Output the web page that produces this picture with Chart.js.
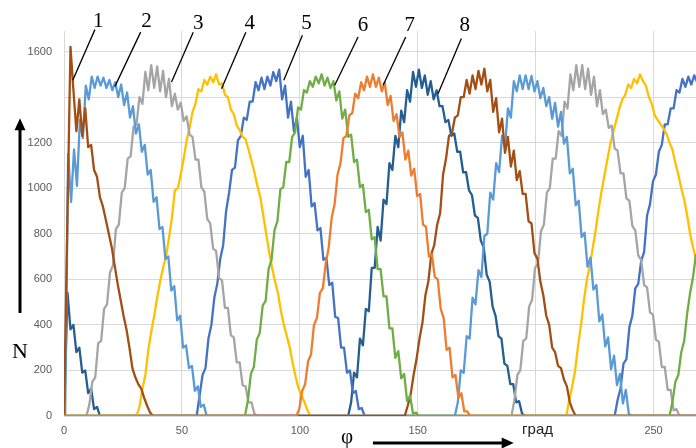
<!DOCTYPE html>
<html>
<head>
<meta charset="utf-8">
<script src="https://cdn.jsdelivr.net/npm/chart.js@4.4.0/dist/chart.umd.min.js"></script>
<style>
  html, body { margin: 0; padding: 0; background: #fff; }
  #wrap { width: 696px; height: 448px; }
</style>
</head>
<body>
<div id="wrap"><canvas id="chart" width="696" height="448"></canvas></div>
<script>
// angle step between read samples (degrees)
const phiStep = 1.25;
const phiMax = 268;

// each curve: list of humps, [start angle, N values read every phiStep]
const curve1 = [
  [0.25, [0, 900, 1620, 1430, 1250, 1390, 1230, 1350, 1180, 1190, 1080, 1050, 960, 920, 860, 800, 740, 660, 580, 510, 440, 380, 300, 210, 170, 140, 120, 80, 45, 15, 0]],
  [144.5, [0, 45, 95, 180, 250, 340, 410, 530, 590, 710, 750, 840, 890, 1060, 1130, 1230, 1240, 1310, 1320, 1400, 1400, 1475, 1415, 1495, 1435, 1515, 1455, 1525, 1425, 1475, 1335, 1395, 1245, 1305, 1155, 1225, 1095, 1165, 1035, 1075, 975, 975, 855, 845, 715, 690, 590, 530, 440, 400, 300, 280, 220, 210, 160, 130, 60, 25, 0]]
];
const curve2 = [
  [0.5, [0, 1150, 940, 1170, 1010, 1300, 1220, 1450, 1390, 1490, 1440, 1490, 1450, 1485, 1440, 1475, 1430, 1465, 1400, 1455, 1365, 1420, 1310, 1360, 1240, 1280, 1160, 1190, 1060, 1080, 940, 960, 820, 830, 690, 700, 550, 570, 420, 440, 300, 310, 210, 220, 110, 130, 40, 50, 0]],
  [165.75, [0, 60, 200, 190, 350, 340, 520, 490, 640, 610, 790, 800, 980, 950, 1110, 1070, 1230, 1180, 1350, 1310, 1470, 1425, 1495, 1435, 1495, 1435, 1493, 1425, 1470, 1395, 1440, 1360, 1400, 1305, 1375, 1270, 1335, 1195, 1225, 1065, 1085, 925, 945, 785, 805, 655, 695, 555, 575, 415, 445, 305, 345, 205, 265, 135, 185, 55, 115, 10, 0]]
];
const curve3 = [
  [9.5, [0, 50, 150, 170, 320, 330, 470, 490, 630, 660, 820, 840, 980, 1000, 1130, 1140, 1270, 1280, 1400, 1370, 1510, 1430, 1540, 1440, 1535, 1425, 1515, 1400, 1480, 1360, 1415, 1345, 1375, 1295, 1315, 1235, 1225, 1125, 1125, 1005, 985, 865, 845, 735, 725, 605, 595, 475, 475, 355, 345, 235, 235, 135, 130, 60, 60, 10, 0]],
  [189.75, [0, 70, 180, 200, 330, 340, 480, 510, 650, 670, 810, 840, 980, 1000, 1130, 1130, 1250, 1230, 1380, 1350, 1500, 1430, 1540, 1445, 1540, 1435, 1525, 1410, 1490, 1360, 1430, 1325, 1345, 1265, 1275, 1175, 1165, 1065, 1065, 955, 945, 835, 815, 705, 685, 575, 565, 455, 445, 335, 325, 215, 215, 115, 115, 25, 30, 0]]
];
const curve4 = [
  [30.75, [0, 40, 120, 180, 290, 370, 440, 520, 590, 650, 700, 780, 870, 990, 1000, 1060, 1130, 1210, 1265, 1335, 1370, 1435, 1425, 1475, 1455, 1490, 1465, 1500, 1455, 1460, 1410, 1400, 1345, 1325, 1275, 1255, 1225, 1215, 1170, 1120, 1070, 1010, 960, 880, 800, 720, 650, 590, 540, 460, 400, 350, 300, 230, 170, 120, 90, 60, 25, 0]],
  [213, [0, 70, 130, 200, 310, 400, 510, 600, 660, 740, 820, 910, 990, 1060, 1130, 1200, 1250, 1300, 1350, 1390, 1410, 1455, 1440, 1480, 1460, 1500, 1470, 1450, 1400, 1370, 1320, 1300, 1280, 1260, 1240, 1200, 1170, 1110, 1060, 1000, 950, 880, 800, 740, 690, 620]]
];
const curve5 = [
  [56.25, [0, 90, 180, 210, 340, 400, 520, 580, 690, 750, 900, 980, 1080, 1090, 1210, 1230, 1310, 1300, 1380, 1380, 1465, 1430, 1485, 1435, 1490, 1450, 1510, 1470, 1520, 1390, 1450, 1310, 1380, 1250, 1310, 1180, 1230, 1050, 1080, 920, 935, 815, 825, 685, 695, 575, 585, 435, 430, 300, 300, 190, 200, 100, 110, 30, 35, 0]],
  [233.5, [0, 70, 120, 230, 250, 390, 440, 560, 580, 680, 720, 880, 930, 1030, 1060, 1160, 1190, 1280, 1280, 1350, 1350, 1430, 1420, 1480, 1445, 1490, 1455, 1495, 1465]]
];
const curve6 = [
  [76.75, [0, 70, 185, 215, 335, 365, 485, 505, 645, 685, 815, 855, 995, 1005, 1115, 1115, 1225, 1245, 1355, 1345, 1430, 1420, 1470, 1445, 1490, 1460, 1500, 1450, 1485, 1440, 1470, 1385, 1425, 1305, 1345, 1225, 1235, 1115, 1125, 1005, 1015, 895, 905, 775, 785, 645, 645, 525, 525, 385, 385, 255, 285, 165, 185, 65, 90, 10, 15, 0]],
  [256.75, [0, 60, 150, 180, 280, 330, 450, 540, 610, 710, 790]]
];
const curve7 = [
  [98.5, [0, 30, 110, 140, 240, 270, 400, 430, 540, 560, 670, 740, 870, 930, 1060, 1110, 1220, 1230, 1320, 1330, 1415, 1395, 1465, 1430, 1490, 1445, 1500, 1445, 1485, 1425, 1465, 1365, 1405, 1295, 1325, 1225, 1245, 1125, 1165, 1055, 1085, 965, 975, 840, 830, 700, 710, 610, 600, 470, 430, 290, 300, 170, 180, 80, 100, 20, 20, 0]]
];
const curve8 = [
  [0.25, [0, 540, 380, 400, 280, 300, 190, 200, 100, 120, 30, 40, 0]],
  [120.5, [0, 60, 190, 170, 340, 310, 470, 460, 650, 650, 830, 770, 950, 930, 1110, 1080, 1230, 1180, 1340, 1290, 1430, 1380, 1510, 1445, 1520, 1440, 1495, 1410, 1470, 1390, 1430, 1360, 1360, 1290, 1300, 1230, 1240, 1160, 1160, 1070, 1070, 990, 970, 880, 870, 770, 740, 620, 590, 480, 440, 350, 340, 230, 220, 140, 140, 60, 65, 10, 0]]
];

const curveNames = ['1', '2', '3', '4', '5', '6', '7', '8'];
const curveColors = ['#A24E14', '#5B9BD5', '#A5A5A5', '#FFC000', '#4472C4', '#70AD47', '#ED7D31', '#255E91'];

// callout labels: number position and leader line ends, in axis units
const labelPhi  = [14.5, 35.0, 56.9, 78.8, 102.8, 126.8, 146.6, 169.9];
const labelN    = [1732, 1732, 1722, 1722, 1722, 1715, 1715, 1715];
const leadFromPhi = [13.1, 32.5, 54.8, 77.1, 101.1, 124.7, 144.9, 168.5];
const leadFromN   = [1696, 1685, 1685, 1685, 1671, 1664, 1664, 1657];
const leadToPhi   = [3.7, 21.6, 45.6, 66.8, 93.2, 114.8, 135.3, 158.6];
const leadToN     = [1474, 1447, 1466, 1437, 1474, 1452, 1452, 1415];

function toPoints(humps) {
  const pts = [];
  if (humps[0][0] > 0) pts.push({ x: 0, y: 0 });
  humps.forEach(([start, vals]) => {
    vals.forEach((v, i) => pts.push({ x: start + i * phiStep, y: v }));
  });
  const last = pts[pts.length - 1];
  if (last.x < phiMax) pts.push({ x: phiMax, y: 0 });
  return pts;
}

const allCurves = [curve1, curve2, curve3, curve4, curve5, curve6, curve7, curve8];
const datasets = allCurves.map((c, i) => ({
  label: curveNames[i],
  data: toPoints(c),
  borderColor: curveColors[i],
  borderWidth: 2.3,
  pointRadius: 0,
  tension: 0,
  fill: false,
  borderJoinStyle: 'round',
  order: i === 6 ? 0 : (i === 5 ? 1 : 2)
}));

const tickFont = { family: 'Liberation Sans, Arial, sans-serif', size: 11 };

function arrowHead(ctx, tx, ty, dx, dy) {
  // filled head pointing along (dx, dy)
  const len = 12, half = 5.5;
  const px = -dy, py = dx;
  ctx.beginPath();
  ctx.moveTo(tx, ty);
  ctx.lineTo(tx - dx * len + px * half, ty - dy * len + py * half);
  ctx.lineTo(tx - dx * len - px * half, ty - dy * len - py * half);
  ctx.closePath();
  ctx.fill();
}

const notes = {
  id: 'notes',
  afterDraw(chart) {
    const { ctx, chartArea } = chart;
    const xs = chart.scales.x, ys = chart.scales.y;
    ctx.save();
    ctx.fillStyle = '#000';
    ctx.strokeStyle = '#000';

    // curve numbers with leader lines
    ctx.lineWidth = 1.3;
    ctx.font = '21px "Liberation Serif", "Times New Roman", serif';
    ctx.textAlign = 'center';
    ctx.textBaseline = 'middle';
    curveNames.forEach((name, i) => {
      ctx.fillText(name, xs.getPixelForValue(labelPhi[i]), ys.getPixelForValue(labelN[i]));
      ctx.beginPath();
      ctx.moveTo(xs.getPixelForValue(leadFromPhi[i]), ys.getPixelForValue(leadFromN[i]));
      ctx.lineTo(xs.getPixelForValue(leadToPhi[i]), ys.getPixelForValue(leadToN[i]));
      ctx.stroke();
    });

    // vertical arrow and N
    const ax = chartArea.left - 44;
    const top = ys.getPixelForValue(1307), bot = ys.getPixelForValue(452);
    ctx.lineWidth = 3;
    ctx.beginPath();
    ctx.moveTo(ax, bot);
    ctx.lineTo(ax, top + 8);
    ctx.stroke();
    arrowHead(ctx, ax, top, 0, -1);
    ctx.font = '22px "Liberation Serif", "Times New Roman", serif';
    ctx.fillText('N', ax, ys.getPixelForValue(281));

    // horizontal arrow, φ and град
    const ay = chartArea.bottom + 27;
    const x0 = xs.getPixelForValue(131), x1 = xs.getPixelForValue(190.7);
    ctx.beginPath();
    ctx.moveTo(x0, ay);
    ctx.lineTo(x1 - 8, ay);
    ctx.stroke();
    arrowHead(ctx, x1, ay, 1, 0);
    ctx.font = '21px "Liberation Serif", "Times New Roman", serif';
    ctx.fillText('φ', xs.getPixelForValue(120), chartArea.bottom + 21);
    ctx.font = '15px "Liberation Sans", Arial, sans-serif';
    ctx.fillStyle = '#222';
    ctx.fillText('град', xs.getPixelForValue(200.8), chartArea.bottom + 14);
    ctx.restore();
  }
};

new Chart(document.getElementById('chart'), {
  type: 'line',
  data: { datasets },
  options: {
    responsive: false,
    animation: false,
    layout: { padding: { top: 31, right: 0, left: 0, bottom: 0 } },
    plugins: { legend: { display: false }, tooltip: { enabled: false } },
    scales: {
      x: {
        type: 'linear',
        min: 0,
        max: phiMax,
        afterBuildTicks: s => { s.ticks = s.ticks.filter(t => t.value % 50 === 0); },
        afterFit: s => { s.height = 32; },
        ticks: {
          stepSize: 50,
          padding: 8,
          maxRotation: 0,
          autoSkip: false,
          color: '#595959',
          font: tickFont,
          callback: v => (v === 200 ? '' : v)
        },
        grid: { color: '#d9d9d9', drawTicks: false },
        border: { display: false }
      },
      y: {
        min: 0,
        max: 1690,
        afterBuildTicks: s => { s.ticks = s.ticks.filter(t => t.value % 200 === 0); },
        afterFit: s => { s.width = 64; },
        ticks: {
          stepSize: 200,
          padding: 12,
          color: '#595959',
          font: tickFont,
          callback: v => (v === 1400 ? '' : v)
        },
        grid: { color: '#d9d9d9', drawTicks: false },
        border: { display: false }
      }
    }
  },
  plugins: [notes]
});
</script>
</body>
</html>
